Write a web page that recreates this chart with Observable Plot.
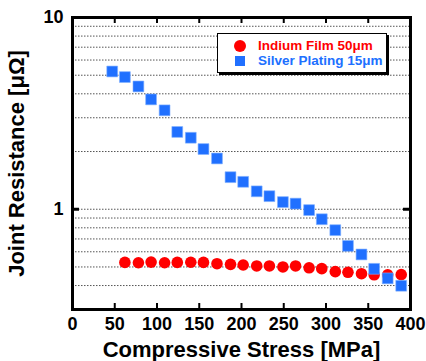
<!DOCTYPE html>
<html>
<head>
<meta charset="utf-8">
<script src="https://cdn.jsdelivr.net/npm/d3@7"></script>
<script src="https://cdn.jsdelivr.net/npm/@observablehq/plot@0.6"></script>
<style>
  html, body { margin: 0; padding: 0; background: white; }
  #wrap { position: relative; width: 426px; height: 361px; font-family: "Liberation Sans", Arial, sans-serif; }
  #legend { position: absolute; left: 217px; top: 33px; width: 168px; height: 38px; background: white;
    border: 1.5px solid black; box-shadow: 2px 2px 0 black; font-weight: bold; font-size: 13.5px; }
  .row { position: absolute; left: 0; display: flex; align-items: center; white-space: nowrap; }
  .row svg { margin-left: 16px; margin-right: 12px; }
</style>
</head>
<body>
<div id="wrap"></div>
<script>
// Data
const indiumStress = [62, 78, 93, 109, 124, 140, 155, 171, 187, 202, 218, 233, 249, 264, 280, 295, 311, 326, 342, 357, 373, 389];
const indiumRes = [0.528, 0.526, 0.530, 0.526, 0.528, 0.529, 0.528, 0.520, 0.516, 0.512, 0.506, 0.506, 0.500, 0.506, 0.495, 0.490, 0.473, 0.469, 0.461, 0.455, 0.455, 0.456];
const silverStress = [47, 62, 78, 93, 109, 124, 140, 155, 171, 187, 202, 218, 233, 249, 264, 280, 295, 311, 326, 342, 357, 373, 389];
const silverRes = [5.23, 4.89, 4.37, 3.74, 3.28, 2.53, 2.36, 2.06, 1.84, 1.47, 1.39, 1.24, 1.17, 1.09, 1.07, 0.99, 0.887, 0.778, 0.644, 0.581, 0.489, 0.436, 0.399];
const seriesNames = ["Indium Film 50μm", "Silver Plating 15μm"];
const seriesColors = ["#ff0000", "#2070ff"];
const seriesSymbols = ["circle", "square"];
const xTicks = [0, 50, 100, 150, 200, 250, 300, 350, 400];
const yTicks = [1, 10];
const yGrid = [0.4, 0.5, 0.6, 0.7, 0.8, 0.9, 1, 2, 3, 4, 5, 6, 7, 8, 9];
const xLabel = "Compressive Stress [MPa]";
const yLabel = "Joint Resistance [μΩ]";

const W = 426, H = 361, mL = 72, mR = 16, mT = 17, mB = 52;
const iW = W - mL - mR, iH = H - mT - mB;

const indium = indiumStress.map((x, i) => ({x, y: indiumRes[i]}));
const silver = silverStress.map((x, i) => ({x, y: silverRes[i]}));
const innerX = xTicks.slice(1, -1);

const chart = Plot.plot({
  width: W, height: H,
  marginLeft: mL, marginRight: mR, marginTop: mT, marginBottom: mB,
  x: {domain: [0, 400]},
  y: {type: "log", domain: [0.3, 10]},
  style: {fontFamily: "'Liberation Sans', Arial, sans-serif", fontWeight: "bold", fontSize: "18px", color: "black", background: "white", overflow: "visible"},
  marks: [
    Plot.ruleY(yGrid, {stroke: "#555", strokeWidth: 1, strokeDasharray: "1.5,1.5"}),
    Plot.dot(indium, {x: "x", y: "y", r: 5.8, fill: seriesColors[0], symbol: seriesSymbols[0]}),
    Plot.dot(silver, {x: "x", y: "y", r: 6.1, fill: seriesColors[1], stroke: "#7fb0ff", strokeWidth: 0.6, symbol: seriesSymbols[1]}),
    Plot.ruleX(innerX, {insetTop: iH - 6, stroke: "black", strokeWidth: 2}),
    Plot.ruleX(innerX, {insetBottom: iH - 6, stroke: "black", strokeWidth: 2}),
    Plot.ruleY([1], {insetRight: iW - 7, stroke: "black", strokeWidth: 3}),
    Plot.ruleY([1], {insetLeft: iW - 7, stroke: "black", strokeWidth: 3}),
    Plot.frame({stroke: "black", strokeWidth: 3}),
    Plot.axisX({ticks: xTicks, tickSize: 0, tickPadding: 8, label: null}),
    Plot.axisY({ticks: yTicks, tickSize: 0, tickPadding: 9, label: null, tickFormat: d => String(d)}),
    Plot.text([xLabel], {frameAnchor: "bottom", lineAnchor: "middle", textAnchor: "middle", dy: 40, fontSize: 22, fontWeight: "bold", fill: "black"}),
    Plot.text([yLabel], {frameAnchor: "left", textAnchor: "middle", lineAnchor: "middle", dx: -56, rotate: -90, fontSize: 22, fontWeight: "bold", fill: "black"})
  ]
});

const wrap = document.getElementById("wrap");
wrap.appendChild(chart);

const legend = document.createElement("div");
legend.id = "legend";
seriesNames.forEach((name, i) => {
  const row = document.createElement("div");
  row.className = "row";
  row.style.top = (i === 0 ? 4 : 19) + "px";
  row.style.color = seriesColors[i];
  const ns = "http://www.w3.org/2000/svg";
  const s = document.createElementNS(ns, "svg");
  s.setAttribute("width", 12); s.setAttribute("height", 12);
  let shape;
  if (seriesSymbols[i] === "circle") {
    shape = document.createElementNS(ns, "circle");
    shape.setAttribute("cx", 6); shape.setAttribute("cy", 6); shape.setAttribute("r", 6);
  } else {
    shape = document.createElementNS(ns, "rect");
    shape.setAttribute("x", 1); shape.setAttribute("y", 1); shape.setAttribute("width", 10); shape.setAttribute("height", 10);
  }
  shape.setAttribute("fill", seriesColors[i]);
  s.appendChild(shape);
  row.appendChild(s);
  const t = document.createElement("span");
  t.textContent = name;
  row.appendChild(t);
  legend.appendChild(row);
});
wrap.appendChild(legend);
</script>
</body>
</html>
